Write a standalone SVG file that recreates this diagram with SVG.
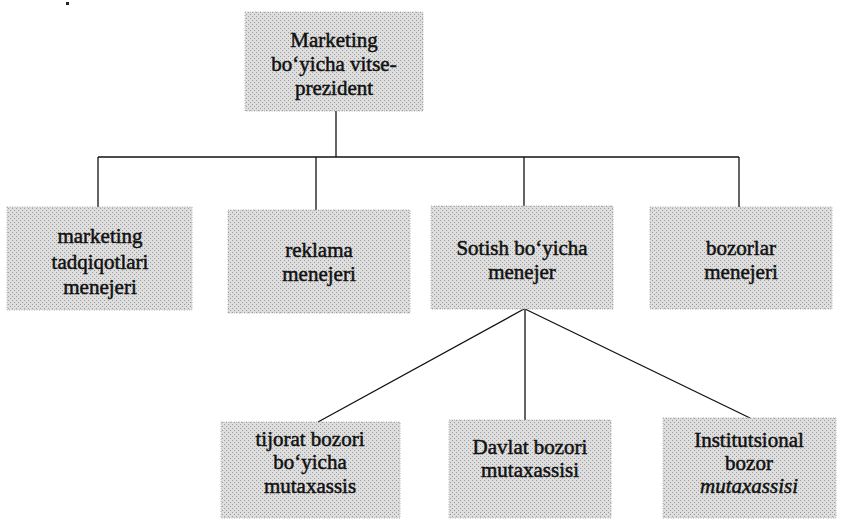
<svg xmlns="http://www.w3.org/2000/svg" width="847" height="519" viewBox="0 0 847 519">
<defs>
<pattern id="ht" width="4" height="4" patternUnits="userSpaceOnUse">
<rect width="4" height="4" fill="#dedede"/>
<rect x="0" y="0" width="1" height="1" fill="#9a9a9a"/>
<rect x="2" y="2" width="1" height="1" fill="#9a9a9a"/>
</pattern>
<style>
.box{fill:url(#ht);stroke:#a8a8a8;stroke-width:1;stroke-dasharray:1 1.5}
.t{font-family:'Liberation Serif','Times New Roman',serif;font-size:21px;fill:#111;stroke:#111;stroke-width:0.5;text-anchor:middle}
.i{font-style:italic}
.c{stroke:#111;stroke-width:1.3;fill:none}
</style>
</defs>
<rect x="66" y="2" width="3" height="3" fill="#222"/>
<g id="connectors">
<line class="c" x1="336" y1="111" x2="336" y2="157"/>
<line class="c" x1="98" y1="157" x2="739" y2="157"/>
<line class="c" x1="98" y1="157" x2="98" y2="207"/>
<line class="c" x1="316" y1="157" x2="316" y2="210"/>
<line class="c" x1="524" y1="157" x2="524" y2="206"/>
<line class="c" x1="739" y1="157" x2="739" y2="207"/>
<line class="c" x1="524" y1="309" x2="318" y2="422"/>
<line class="c" x1="525" y1="309" x2="525" y2="420"/>
<line class="c" x1="525" y1="309" x2="750" y2="418"/>
</g>
<g id="vp">
<rect class="box" x="245" y="12" width="178" height="99"/>
<text class="t" x="334" y="47">Marketing</text>
<text class="t" x="334" y="71">bo‘yicha vitse-</text>
<text class="t" x="334" y="95">prezident</text>
</g>
<g id="mtm">
<rect class="box" x="7" y="207" width="185" height="103"/>
<text class="t" x="100" y="243">marketing</text>
<text class="t" x="100" y="269">tadqiqotlari</text>
<text class="t" x="100" y="294">menejeri</text>
</g>
<g id="rm">
<rect class="box" x="228" y="210" width="182" height="103"/>
<text class="t" x="319" y="257">reklama</text>
<text class="t" x="319" y="281">menejeri</text>
</g>
<g id="sbm">
<rect class="box" x="431" y="206" width="182" height="103"/>
<text class="t" x="522" y="255">Sotish bo‘yicha</text>
<text class="t" x="522" y="279">menejer</text>
</g>
<g id="bm">
<rect class="box" x="650" y="207" width="182" height="102"/>
<text class="t" x="741" y="255">bozorlar</text>
<text class="t" x="741" y="279">menejeri</text>
</g>
<g id="tbm">
<rect class="box" x="221" y="422" width="179" height="96"/>
<text class="t" x="310" y="446">tijorat bozori</text>
<text class="t" x="310" y="469">bo‘yicha</text>
<text class="t" x="310" y="493">mutaxassis</text>
</g>
<g id="dbm">
<rect class="box" x="449" y="420" width="162" height="98"/>
<text class="t" x="530" y="454">Davlat bozori</text>
<text class="t" x="530" y="477">mutaxassisi</text>
</g>
<g id="ibm">
<rect class="box" x="663" y="418" width="173" height="100"/>
<text class="t" x="749" y="447">Institutsional</text>
<text class="t" x="749" y="470">bozor</text>
<text class="t i" x="749" y="493">mutaxassisi</text>
</g>
</svg>
